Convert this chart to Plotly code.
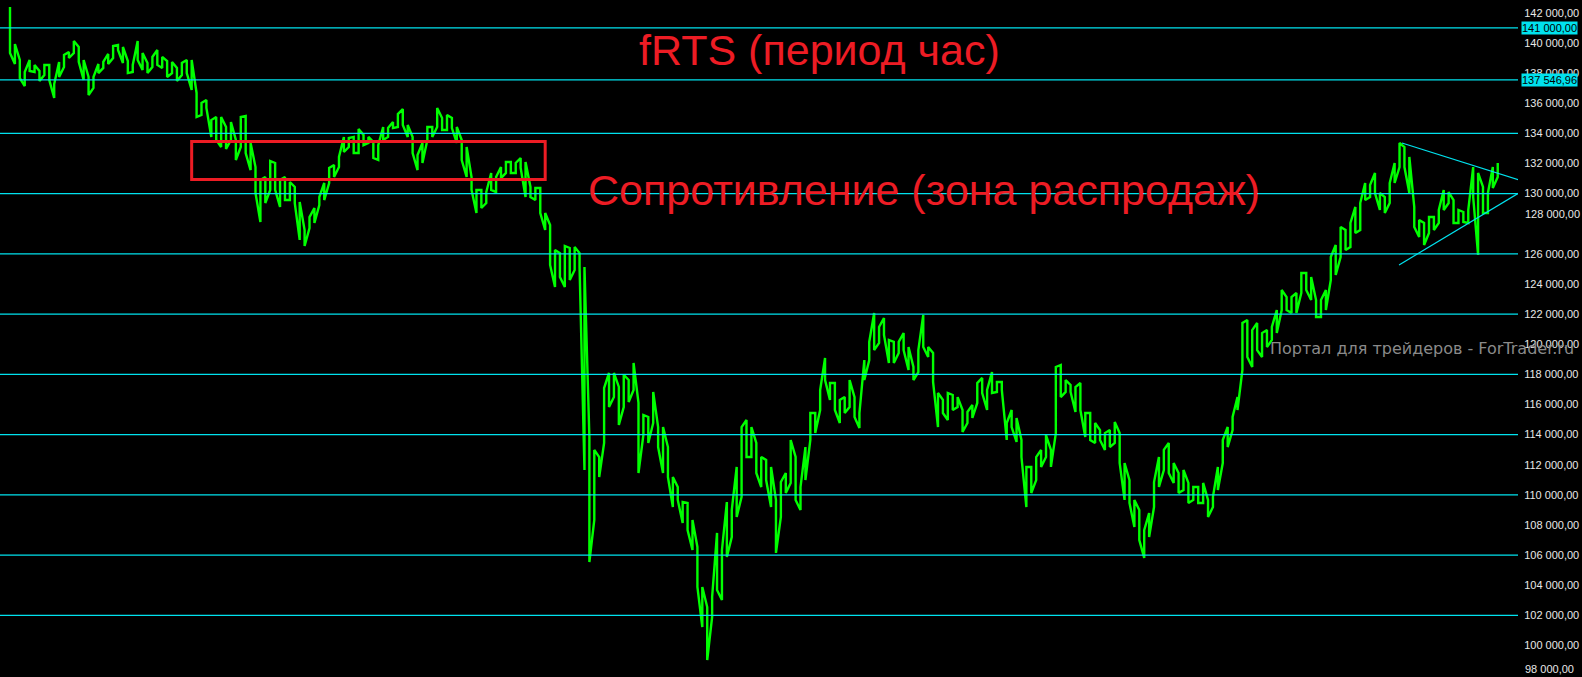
import plotly.graph_objects as go

# ---- data: hourly fRTS price envelope per bar group (high / low) ----
bar_high = [142390,139930,138870,138070,138870,138540,138140,138540,138540,137270,
            138740,139200,139400,140130,139730,138870,137740,137740,138600,138740,
            139270,139800,139860,139730,138800,138540,140130,139330,138670,139070,
            139530,139070,138800,138740,138340,138670,138870,138870,136680,136010,
            136210,134880,135080,135080,134420,134750,133560,135080,135150,133360,
            131760,130900,131100,132160,132030,130900,131100,130770,130440,129440,
            127580,128440,129040,129770,130700,131700,131900,132430,133760,133690,
            133760,134290,133890,133760,133420,133220,134420,134350,134750,135280,
            135610,134550,133760,132560,133360,134420,134420,135680,135020,135220,
            135020,134420,133560,133090,131100,130240,130240,130100,131370,131100,
            131760,132100,132100,132030,132360,132100,130440,130370,130370,128710,
            127910,126250,126050,126520,126390,126450,126050,125130,113840,112980,
            112510,117090,118090,118090,117160,117960,117620,118750,116100,115300,
            115170,116830,114500,114500,113170,111180,110520,109520,109460,108330,
            106540,103880,102550,103220,107470,106340,109520,108990,111850,114500,
            114970,114500,113440,112510,112310,111850,109660,110850,111450,113640,
            112510,110520,113170,115430,115430,116960,119080,117420,117420,116300,
            116490,117620,116490,115430,118950,120150,122070,121140,121740,120280,
            120150,120150,120740,119810,118490,119610,121940,119810,119420,116760,
            116300,116760,116630,116490,115630,115500,115960,117420,117760,116960,
            118150,117490,117490,114770,115630,115100,113640,111850,111850,112510,
            112980,113970,112980,118490,118620,117620,117290,117160,117420,115430,
            115430,114770,114300,114100,114300,114830,114100,112110,110980,109660,
            108990,107660,108790,110850,112510,112980,113440,112110,111450,111650,
            110790,110520,110520,110790,109660,109860,111850,113640,114500,115170,
            116490,121410,121610,120940,121410,120740,120940,121140,122270,123600,
            123130,123130,123400,124730,124730,124460,122930,122930,123600,125790,
            126590,127780,127580,128050,129110,129370,130700,130570,131370,130040,
            129770,130700,132030,133360,133090,132430,129110,128250,128050,128440,
            128440,128910,130240,130100,129570,128910,128780,128910,131760,131370,
            130440,130040,131760,132030]
bar_low = [139330,138600,137670,137140,138140,138070,137470,137870,137540,136350,
           137740,138400,139000,139330,138740,137540,136540,137010,138000,138340,
           138600,139000,139530,138670,138000,138070,138870,138200,138000,138400,
           138540,138340,137740,138000,137470,137870,138000,136880,135080,135220,
           135680,133760,133560,133090,132960,133560,132230,133090,132690,131560,
           130040,128110,129370,130240,130240,129110,129570,129570,129370,126920,
           126520,127710,128050,129240,129570,130700,131100,131760,132760,133090,
           132690,132690,133220,133360,132360,132230,133560,133760,134350,134420,
           134550,133760,132690,131560,132030,133560,133760,134420,134220,134220,
           134350,133360,132230,131100,130240,128710,129040,129370,130240,130100,
           131030,131370,131370,131370,131700,129770,129770,129570,128710,127580,
           125260,123800,124460,123800,124260,124930,125130,111650,105540,108330,
           111180,113440,115830,116490,114640,115830,116160,116960,111450,113970,
           113440,114770,113170,111450,111180,109190,109660,108130,107660,106340,
           103880,101220,99030,101890,103680,103020,105870,107200,108530,109860,
           112510,112510,111450,110520,110980,109190,106140,108530,110120,110790,
           109660,108990,110980,113640,114100,115630,117620,116300,115630,114770,
           115430,115830,115170,114440,117620,118950,119610,120080,120610,118750,
           118750,119420,119610,118290,117620,118150,119810,119150,117490,114500,
           115430,114970,115630,115830,114170,114770,115100,116100,116760,115630,
           116760,116830,116960,113640,114500,113510,112510,109190,110120,110980,
           111850,112510,111850,114100,116490,116830,116830,115500,115630,113840,
           113640,113440,113640,112980,113170,113440,112110,109660,109460,107860,
           107000,105810,107200,109190,110520,111650,111450,110790,110120,110320,
           109460,109660,109460,109460,108530,109190,110320,112110,113170,114300,
           115630,118290,119150,118490,119610,119150,119810,120280,120740,122270,
           122270,122070,122070,123400,123600,122930,121810,121810,122270,124260,
           124590,125790,126250,126450,127380,127580,129570,129770,130040,128910,
           128710,129370,130700,131760,131760,130040,127780,127120,126590,127380,
           127580,128050,128910,129370,128050,128050,128110,128050,129770,125920,
           128710,128710,130370,131100]

level_lines = [141000, 137546.96, 134000, 130000, 126000, 122000, 118000, 114000, 110000, 106000, 102000]
highlight_levels = [141000, 137546.96]
tick_values = [100000, 102000, 104000, 106000, 108000, 110000, 112000, 114000, 116000, 118000,
               120000, 122000, 124000, 126000, 130000, 132000, 134000, 136000, 138000, 140000, 142000]
shifted_ticks = [128000, 98000]

# resistance zone (bar index, price)
zone_bars = [37, 109]
zone_prices = [130930, 133450]
# triangle trend lines (bar index, price)
upper_line_bars = [283.5, 307.3]
upper_line_prices = [133360, 130900]
lower_line_bars = [282.9, 307.3]
lower_line_prices = [125260, 130040]

title_text = "fRTS (период час)"
zone_text = "Сопротивление (зона распродаж)"
watermark = "Портал для трейдеров - ForTrader.ru"

CYAN = "#00E2EE"
GREEN = "#00FF00"
RED = "#ED1C24"


def fmt(v):
    return f"{v:,.2f}".replace(",", " ").replace(".", ",")


# each bar is a vertical stroke low<->high; strokes are chained alternately
xs, ys = [], []
for i, (h, l) in enumerate(zip(bar_high, bar_low)):
    xs += [i, i]
    ys += [h, l] if i % 2 == 0 else [l, h]

fig = go.Figure()
fig.add_trace(go.Scatter(x=xs, y=ys, mode="lines", line=dict(color=GREEN, width=2.4),
                         hoverinfo="skip", showlegend=False))

shapes = []
for lv in level_lines:
    shapes.append(dict(type="line", xref="paper", x0=0, x1=1, yref="y", y0=lv, y1=lv,
                       line=dict(color=CYAN, width=1.2)))
shapes.append(dict(type="rect", xref="x", yref="y", x0=zone_bars[0], x1=zone_bars[1],
                   y0=zone_prices[0], y1=zone_prices[1], line=dict(color=RED, width=3)))
shapes.append(dict(type="line", xref="x", yref="y", x0=upper_line_bars[0], x1=upper_line_bars[1],
                   y0=upper_line_prices[0], y1=upper_line_prices[1], line=dict(color=CYAN, width=1.2)))
shapes.append(dict(type="line", xref="x", yref="y", x0=lower_line_bars[0], x1=lower_line_bars[1],
                   y0=lower_line_prices[0], y1=lower_line_prices[1], line=dict(color=CYAN, width=1.2)))

label_font = dict(family="Liberation Sans, Arial, sans-serif", size=11, color="#E8E8E8")
annotations = []
for lv, ys_ in zip(shifted_ticks, [10, 7]):
    annotations.append(dict(xref="paper", x=1, xanchor="left", xshift=5, yref="y", y=lv,
                            yanchor="middle", yshift=ys_, text=fmt(lv), showarrow=False,
                            font=label_font))
for lv in highlight_levels:
    annotations.append(dict(xref="paper", x=1, xanchor="left", xshift=3, yref="y", y=lv,
                            yanchor="middle", text=fmt(lv), showarrow=False, bgcolor=CYAN,
                            borderpad=0,
                            font=dict(family="Liberation Sans, Arial, sans-serif", size=11, color="#000000")))
annotations.append(dict(xref="paper", yref="paper", x=0.540, y=1 - 50 / 677, text=title_text,
                        showarrow=False, xanchor="center", yanchor="middle",
                        font=dict(family="Liberation Sans, Arial, sans-serif", size=43, color=RED)))
annotations.append(dict(xref="paper", yref="paper", x=0.6087, y=1 - 190 / 677, text=zone_text,
                        showarrow=False, xanchor="center", yanchor="middle",
                        font=dict(family="Liberation Sans, Arial, sans-serif", size=43, color=RED)))
annotations.append(dict(xref="paper", yref="paper", x=1576 / 1518, y=1 - 348 / 677, text=watermark,
                        showarrow=False, xanchor="right", yanchor="middle",
                        font=dict(family="DejaVu Sans, sans-serif", size=16, color="#8A8A8A")))

fig.update_layout(
    width=1582, height=677,
    margin=dict(l=0, r=64, t=0, b=0),
    paper_bgcolor="#000000", plot_bgcolor="#000000",
    showlegend=False,
    shapes=shapes, annotations=annotations,
    xaxis=dict(range=[-10 / 4.91, (1518 - 10) / 4.91], showgrid=False, zeroline=False,
               showticklabels=False, showline=False, ticks=""),
    yaxis=dict(range=[97905, 142851], side="right", showgrid=False, zeroline=False,
               showline=False, tickvals=tick_values, ticktext=[fmt(v) for v in tick_values],
               ticks="outside", ticklen=3, tickcolor="#000000", tickfont=label_font),
)

fig.write_html("out.html", config={"displayModeBar": False},
               post_script="document.body.style.margin='0';document.body.style.overflow='hidden';")
